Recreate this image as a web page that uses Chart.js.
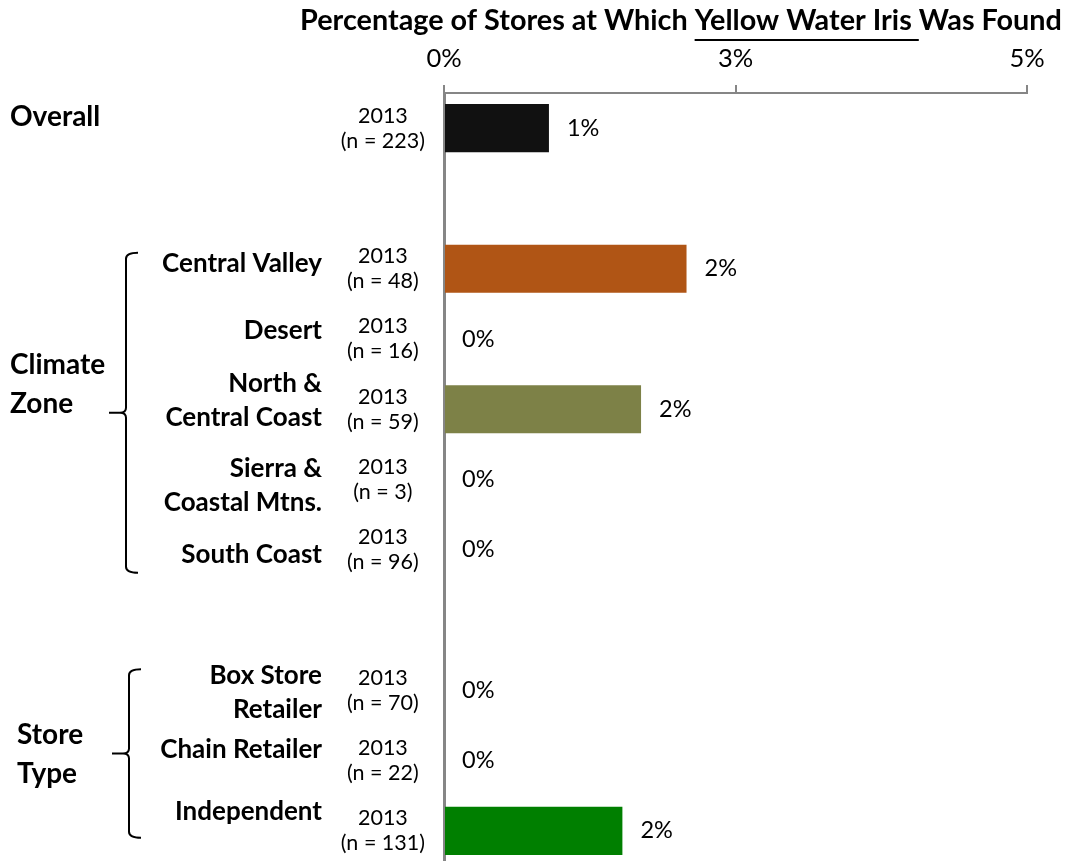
<!DOCTYPE html>
<html>
<head>
<meta charset="utf-8">
<script src="https://cdn.jsdelivr.net/npm/chart.js@4"></script>
<style>
  html, body { margin: 0; padding: 0; background: #fff; overflow: hidden; }
</style>
</head>
<body>
<canvas id="irisChart" width="1069" height="870"></canvas>
<script>
// rows top to bottom, blanks are the spacer rows between groups
const rowNames = ['', '', 'Central Valley', 'Desert', ['North &', 'Central Coast'],
  ['Sierra &', 'Coastal Mtns.'], 'South Coast', '', ['Box Store', 'Retailer'],
  'Chain Retailer', 'Independent'];
const surveyYears = ['2013', null, '2013', '2013', '2013', '2013', '2013', null, '2013', '2013', '2013'];
const sampleSizes = [223, null, 48, 16, 59, 3, 96, null, 70, 22, 131];
const pctFound = [0.90, null, 2.08, 0, 1.69, 0, 0, null, 0, 0, 1.53];
const xTickValues = [0, 2.5, 5];
const groupNames = [['Overall'], ['Climate', 'Zone'], ['Store', 'Type']];

const barColors = ['#111111', null, '#b05515', null, '#7d8147', null, null, null, null, null, '#007f00'];
const axisGrey = '#868686';
const FONT = 'Lato, "Open Sans", sans-serif';

// little vertical nudges for the bold row names
const nameShift = [0, 0, -5, -8, -9, 6, 5, 0, 2, -11, -19];

const padTop = 30;

function drawBrace(ctx, x, top, bottom) {
  const mid = (top + bottom) / 2;
  ctx.beginPath();
  ctx.moveTo(x + 12, top);
  ctx.quadraticCurveTo(x, top, x, top + 6);
  ctx.lineTo(x, mid - 5);
  ctx.quadraticCurveTo(x, mid, x - 6, mid);
  ctx.lineTo(x - 17, mid);
  ctx.moveTo(x - 6, mid);
  ctx.quadraticCurveTo(x, mid, x, mid + 5);
  ctx.lineTo(x, bottom - 6);
  ctx.quadraticCurveTo(x, bottom, x + 12, bottom);
  ctx.stroke();
}

const textLayer = {
  id: 'textLayer',
  afterDatasetsDraw(chart) {
    const ctx = chart.ctx;
    const meta = chart.getDatasetMeta(0);
    ctx.save();
    ctx.fillStyle = '#000';
    ctx.font = '23.5px ' + FONT;
    ctx.textAlign = 'left';
    ctx.textBaseline = 'middle';
    meta.data.forEach((bar, i) => {
      if (pctFound[i] == null) return;
      ctx.fillText(Math.round(pctFound[i]) + '%', bar.x + 18, bar.y);
    });
    ctx.restore();
  },
  afterDraw(chart) {
    const ctx = chart.ctx;
    const y = chart.scales.y;
    ctx.save();
    ctx.fillStyle = '#000';
    ctx.strokeStyle = '#000';

    // title with the plant name underlined
    ctx.font = 'bold 28.8px ' + FONT;
    ctx.textBaseline = 'middle';
    ctx.textAlign = 'left';
    const parts = ['Percentage of Stores at Which ', 'Yellow Water Iris ', 'Was Found'];
    const widths = parts.map(p => ctx.measureText(p).width);
    let tx = 681 - (widths[0] + widths[1] + widths[2]) / 2;
    const ty = 21;
    parts.forEach((p, i) => {
      ctx.fillText(p, tx, ty);
      if (i === 1) {
        ctx.fillRect(tx, ty + 18, widths[1], 2);
      }
      tx += widths[i];
    });

    // bold row names, right aligned
    ctx.font = 'bold 26px ' + FONT;
    ctx.textAlign = 'right';
    rowNames.forEach((name, i) => {
      if (!name) return;
      const lines = Array.isArray(name) ? name : [name];
      const cy = y.getPixelForValue(i) + nameShift[i];
      lines.forEach((ln, k) => {
        ctx.fillText(ln, 322, cy + (k - (lines.length - 1) / 2) * 34);
      });
    });

    // braces and group names
    ctx.lineWidth = 2;
    const climTop = y.getPixelForValue(2) - 16, climBot = y.getPixelForValue(6) + 23;
    const storeTop = y.getPixelForValue(8) - 21, storeBot = y.getPixelForValue(10) + 7;
    drawBrace(ctx, 126, climTop, climBot);
    drawBrace(ctx, 129, storeTop, storeBot);

    ctx.font = 'bold 28px ' + FONT;
    ctx.textAlign = 'left';
    const groupSpots = [
      [10, y.getPixelForValue(0) - 11],
      [10, (climTop + climBot) / 2 - 28],
      [17, (storeTop + storeBot) / 2 + 1]
    ];
    groupNames.forEach((lines, g) => {
      const [gx, gy] = groupSpots[g];
      lines.forEach((ln, k) => {
        ctx.fillText(ln, gx, gy + (k - (lines.length - 1) / 2) * 39);
      });
    });
    ctx.restore();
  }
};

new Chart(document.getElementById('irisChart'), {
  type: 'bar',
  data: {
    labels: rowNames.map((n, i) => 'row' + i),
    datasets: [{
      data: pctFound,
      backgroundColor: barColors,
      barPercentage: 0.684,
      categoryPercentage: 1
    }]
  },
  options: {
    indexAxis: 'y',
    responsive: false,
    animation: false,
    layout: { padding: { top: padTop, right: 42, bottom: 4, left: 0 } },
    plugins: {
      legend: { display: false },
      tooltip: { enabled: false }
    },
    scales: {
      x: {
        type: 'linear',
        position: 'top',
        min: 0,
        max: 5,
        afterBuildTicks: (scale) => {
          scale.ticks = xTickValues.map(v => ({ value: v }));
        },
        afterFit: (scale) => { scale.height = 93 - padTop; },
        grid: {
          drawOnChartArea: false,
          drawTicks: true,
          tickLength: 8,
          color: axisGrey,
          lineWidth: 2
        },
        border: { display: true, color: axisGrey, width: 2 },
        ticks: {
          callback: (v) => Math.round(v) + '%',
          font: { family: FONT, size: 25.5 },
          color: '#000',
          padding: 11,
          maxRotation: 0
        }
      },
      y: {
        type: 'category',
        afterFit: (scale) => {
          scale.width = 444;
          scale.paddingTop = 0;
          scale.paddingBottom = 0;
        },
        grid: { display: false, drawTicks: false },
        border: { display: true, color: axisGrey, width: 3 },
        ticks: {
          autoSkip: false,
          crossAlign: 'center',
          padding: 19,
          color: '#000',
          font: { family: FONT, size: 21.5, lineHeight: 1.163 },
          callback: (v, i) => sampleSizes[i] == null ? '' : [surveyYears[i], '(n = ' + sampleSizes[i] + ')']
        }
      }
    }
  },
  plugins: [textLayer]
});
</script>
</body>
</html>
